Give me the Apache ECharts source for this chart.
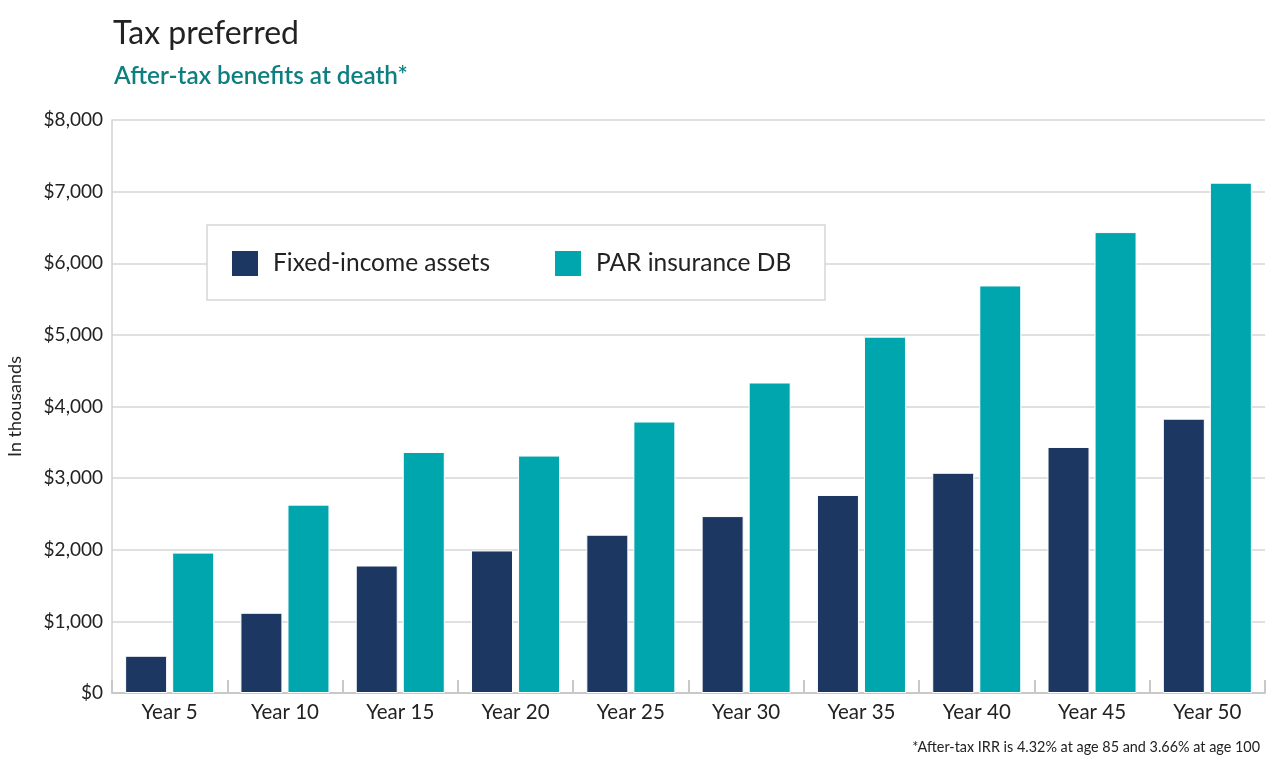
<!DOCTYPE html>
<html><head><meta charset="utf-8">
<script src="https://cdn.jsdelivr.net/npm/echarts@6/dist/echarts.min.js"></script>
<style>html,body{margin:0;padding:0;background:#fff}#c{width:1270px;height:759px}</style>
</head><body><div id="c"></div>
<script>
const categories = ['Year 5','Year 10','Year 15','Year 20','Year 25','Year 30','Year 35','Year 40','Year 45','Year 50'];
const fixedIncome = [520, 1120, 1780, 1990, 2210, 2470, 2765, 3075, 3435, 3830];
const parInsurance = [1960, 2630, 3365, 3315, 3790, 4335, 4975, 5690, 6435, 7125];
const yTicks = [0, 1000, 2000, 3000, 4000, 5000, 6000, 7000, 8000];

const FONT = 'Lato, "Noto Sans", sans-serif';
const chart = echarts.init(document.getElementById('c'));
chart.setOption({
  animation: false,
  textStyle: { fontFamily: FONT },
  title: [
    { text: 'Tax preferred', left: 108, top: 13, textStyle: { fontFamily: FONT, fontSize: 32, fontWeight: 'normal', color: '#222222' } },
    { text: 'After-tax benefits at death*', left: 109, top: 59, textStyle: { fontFamily: FONT, fontSize: 24.3, fontWeight: 600, color: '#0e7f80' } },
    { text: '*After-tax IRR is 4.32% at age 85 and 3.66% at age 100', right: 5, top: 735, textStyle: { fontFamily: FONT, fontSize: 14.4, fontWeight: 'normal', color: '#222222' } }
  ],
  graphic: [
    { type: 'rect', z: 10, shape: { x: 207, y: 225, width: 618, height: 75 }, style: { fill: '#ffffff', stroke: '#d6d6d6', lineWidth: 1.5 } }
  ],
  legend: {
    z: 20,
    left: 230, top: 249, padding: 0,
    itemWidth: 28, itemHeight: 27, itemGap: 63,
    icon: 'rect',
    textStyle: { fontFamily: FONT, fontSize: 24.5, color: '#222222', padding: [0, 0, 0, 9] },
    data: ['Fixed-income assets', 'PAR insurance DB']
  },
  grid: { left: 112, right: 5, top: 120, bottom: 66, containLabel: false, outerBoundsMode: 'none' },
  xAxis: {
    type: 'category', data: categories,
    axisLine: { lineStyle: { color: '#c8c8c8', width: 2 } },
    axisTick: { show: true, inside: true, length: 13, lineStyle: { color: '#c8c8c8', width: 2 } },
    axisLabel: { fontFamily: FONT, fontSize: 20.5, color: '#222222', margin: 9 }
  },
  yAxis: {
    type: 'value', min: 0, max: 8000, interval: 1000,
    name: 'In thousands', nameLocation: 'middle', nameGap: 88, nameRotate: 90,
    nameTextStyle: { fontFamily: FONT, fontSize: 18, color: '#222222' },
    axisLine: { show: true, lineStyle: { color: '#d0d0d0', width: 1.5 } },
    axisTick: { show: false },
    splitLine: { lineStyle: { color: '#d6d6d6', width: 1.5 } },
    axisLabel: { fontFamily: FONT, fontSize: 19, color: '#222222', margin: 9,
      formatter: v => yTicks.includes(v) ? '$' + v.toLocaleString('en-US') : '' }
  },
  series: [
    { name: 'Fixed-income assets', type: 'bar', data: fixedIncome, barWidth: 42, barGap: '12%',
      itemStyle: { color: '#1d3763', borderColor: '#ffffff', borderWidth: 1 } },
    { name: 'PAR insurance DB', type: 'bar', data: parInsurance, barWidth: 42,
      itemStyle: { color: '#00a6ae', borderColor: '#ffffff', borderWidth: 1 } }
  ]
});
</script></body></html>
